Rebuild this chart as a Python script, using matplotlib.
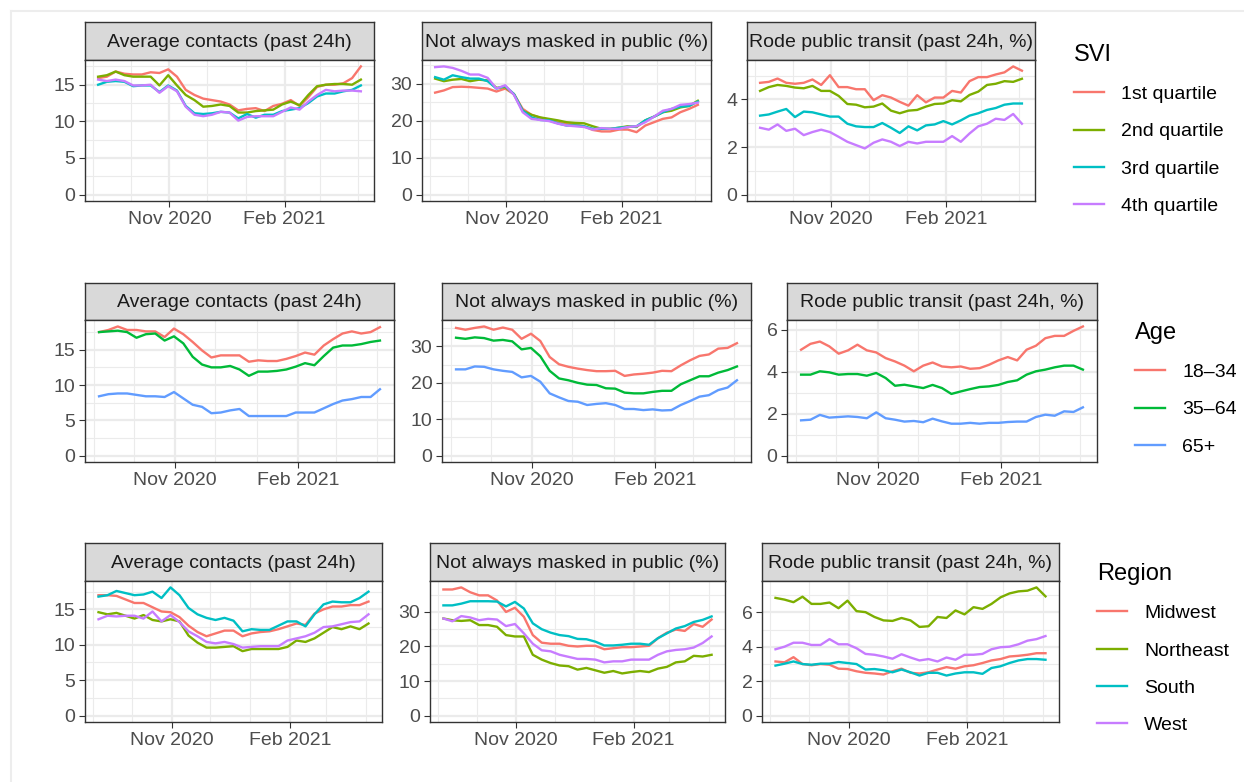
import matplotlib
matplotlib.use("Agg")
import matplotlib.pyplot as plt
import matplotlib.dates as mdates
from matplotlib.ticker import MultipleLocator
from matplotlib.lines import Line2D
import numpy as np
import pandas as pd

plt.rcParams['font.family'] = ['Liberation Sans', 'DejaVu Sans']

# ---------------- data ----------------
dates = pd.date_range("2020-09-05", periods=31, freq="7D")

panel_titles = ["Average contacts (past 24h)", "Not always masked in public (%)",
                "Rode public transit (past 24h, %)"]

svi_groups = ["1st quartile", "2nd quartile", "3rd quartile", "4th quartile"]
age_groups = ["18\u201334", "35\u201364", "65+"]
region_groups = ["Midwest", "Northeast", "South", "West"]

svi_colors = ["#F8766D", "#7CAE00", "#00BFC4", "#C77CFF"]
age_colors = ["#F8766D", "#00BA38", "#619CFF"]
region_colors = ["#F8766D", "#7CAE00", "#00BFC4", "#C77CFF"]

svi_contacts_q1 = [15.9, 16.1, 16.8, 16.5, 16.4, 16.4, 16.7, 16.6, 17.1, 16.1, 14.3, 13.6, 13.1, 12.9, 12.7, 12.3, 11.5, 11.7, 11.8, 11.4, 12.1, 12.4, 12.9, 12.1, 13.3, 14.7, 15.0, 15.0, 15.2, 15.9, 17.5]
svi_contacts_q2 = [16.1, 16.3, 16.8, 16.3, 16.1, 16.1, 16.1, 14.9, 16.3, 14.9, 13.6, 12.9, 12.0, 12.1, 12.3, 12.1, 11.2, 11.2, 11.4, 11.5, 11.6, 12.3, 12.7, 12.2, 13.6, 14.8, 15.0, 15.1, 15.1, 15.0, 15.7]
svi_contacts_q3 = [15.0, 15.4, 15.5, 15.4, 14.8, 14.9, 14.9, 14.0, 14.9, 14.2, 12.1, 11.1, 11.0, 11.1, 11.3, 11.2, 10.4, 11.0, 10.5, 10.9, 10.9, 11.4, 11.6, 11.8, 12.5, 13.4, 13.8, 13.8, 14.1, 14.3, 14.9]
svi_contacts_q4 = [15.7, 15.5, 15.7, 15.5, 14.9, 14.9, 15.0, 13.9, 14.8, 14.1, 12.0, 10.9, 10.7, 10.9, 11.3, 11.2, 10.1, 10.6, 10.7, 10.7, 10.7, 11.3, 11.9, 11.6, 12.7, 13.6, 14.3, 14.1, 14.2, 14.2, 14.1]

svi_mask_q1 = [27.6, 28.2, 29.1, 29.2, 29.1, 28.9, 28.7, 27.9, 28.7, 27.2, 23.2, 21.6, 20.8, 20.3, 19.8, 19.3, 19.0, 18.5, 17.5, 17.1, 17.1, 17.6, 17.6, 16.9, 18.7, 19.6, 20.5, 20.9, 22.3, 23.2, 24.3]
svi_mask_q2 = [31.4, 30.7, 31.1, 31.3, 30.7, 31.1, 30.9, 28.9, 29.1, 27.2, 22.7, 21.6, 20.9, 20.5, 20.1, 19.6, 19.4, 19.3, 18.5, 17.8, 17.8, 18.1, 18.5, 18.3, 20.1, 21.1, 22.3, 22.7, 23.6, 24.0, 25.4]
svi_mask_q3 = [31.8, 31.1, 32.3, 31.8, 31.4, 31.4, 30.7, 28.7, 29.4, 27.2, 22.7, 20.9, 20.2, 20.1, 19.3, 18.7, 18.7, 18.5, 17.8, 17.8, 17.8, 18.1, 18.3, 18.5, 20.1, 21.1, 22.3, 23.2, 23.8, 24.0, 25.2]
svi_mask_q4 = [34.5, 34.7, 34.3, 33.5, 32.5, 32.5, 31.6, 28.7, 29.6, 27.0, 22.3, 20.5, 20.2, 19.9, 19.2, 18.7, 18.5, 18.3, 17.6, 18.0, 17.8, 17.8, 18.3, 18.5, 19.6, 21.1, 22.7, 23.2, 24.3, 24.5, 24.9]

svi_transit_q1 = [4.70, 4.74, 4.88, 4.70, 4.66, 4.70, 4.84, 4.61, 5.02, 4.52, 4.52, 4.43, 4.43, 3.97, 4.18, 4.08, 3.90, 3.74, 4.18, 3.88, 4.08, 4.08, 4.36, 4.29, 4.77, 4.94, 4.94, 5.05, 5.14, 5.39, 5.21]
svi_transit_q2 = [4.36, 4.52, 4.61, 4.57, 4.50, 4.47, 4.57, 4.36, 4.36, 4.15, 3.81, 3.78, 3.67, 3.70, 3.83, 3.53, 3.42, 3.53, 3.56, 3.70, 3.81, 3.83, 3.97, 3.92, 4.19, 4.33, 4.61, 4.66, 4.77, 4.74, 4.87]
svi_transit_q3 = [3.32, 3.37, 3.49, 3.60, 3.26, 3.49, 3.46, 3.37, 3.28, 3.28, 2.98, 2.87, 2.84, 2.84, 3.01, 2.81, 2.59, 2.87, 2.70, 2.91, 2.95, 3.09, 2.95, 3.12, 3.32, 3.42, 3.56, 3.64, 3.78, 3.83, 3.83]
svi_transit_q4 = [2.81, 2.73, 2.95, 2.68, 2.77, 2.50, 2.63, 2.73, 2.63, 2.43, 2.22, 2.08, 1.94, 2.18, 2.32, 2.22, 2.04, 2.22, 2.15, 2.22, 2.22, 2.22, 2.46, 2.22, 2.57, 2.87, 2.98, 3.19, 3.14, 3.39, 2.98]

age_contacts_1834 = [17.5, 17.8, 18.3, 17.8, 17.8, 17.6, 17.6, 16.8, 18.0, 17.2, 16.1, 14.9, 13.9, 14.2, 14.2, 14.2, 13.3, 13.5, 13.4, 13.4, 13.7, 14.1, 14.6, 14.3, 15.6, 16.5, 17.3, 17.6, 17.3, 17.5, 18.2]
age_contacts_3564 = [17.5, 17.6, 17.7, 17.5, 16.7, 17.2, 17.3, 16.3, 16.9, 15.9, 14.0, 12.9, 12.5, 12.5, 12.7, 12.2, 11.3, 11.9, 11.9, 12.0, 12.2, 12.6, 13.1, 12.8, 14.1, 15.3, 15.6, 15.6, 15.8, 16.1, 16.3]
age_contacts_65 = [8.4, 8.7, 8.8, 8.8, 8.6, 8.4, 8.4, 8.3, 9.0, 8.1, 7.2, 6.9, 6.0, 6.1, 6.4, 6.6, 5.6, 5.6, 5.6, 5.6, 5.6, 6.1, 6.1, 6.1, 6.7, 7.3, 7.8, 8.0, 8.3, 8.3, 9.4]

age_mask_1834 = [35.1, 34.6, 35.1, 35.5, 34.6, 35.2, 34.6, 32.1, 33.5, 31.5, 27.1, 25.1, 24.4, 23.9, 23.5, 23.2, 23.2, 23.3, 21.9, 22.3, 22.5, 22.8, 23.3, 23.2, 24.8, 26.2, 27.4, 27.8, 29.4, 29.6, 30.9]
age_mask_3564 = [32.4, 32.1, 32.5, 32.3, 31.6, 31.8, 31.4, 29.2, 29.6, 27.3, 23.3, 21.2, 20.7, 20.0, 19.5, 19.4, 18.5, 18.4, 17.3, 17.1, 17.1, 17.5, 17.8, 17.8, 19.6, 20.7, 21.8, 21.8, 22.8, 23.5, 24.5]
age_mask_65 = [23.7, 23.7, 24.5, 24.4, 23.7, 23.3, 23.0, 21.5, 21.9, 20.3, 17.1, 16.0, 15.0, 14.8, 13.9, 14.2, 14.4, 13.9, 12.8, 12.8, 12.5, 12.7, 12.4, 12.5, 13.9, 15.0, 16.2, 16.6, 18.0, 18.7, 20.7]

age_transit_1834 = [5.05, 5.33, 5.44, 5.21, 4.86, 5.02, 5.29, 5.02, 4.92, 4.65, 4.49, 4.29, 4.02, 4.29, 4.44, 4.25, 4.21, 4.25, 4.14, 4.17, 4.33, 4.54, 4.70, 4.54, 5.05, 5.24, 5.60, 5.71, 5.71, 5.95, 6.16]
age_transit_3564 = [3.86, 3.86, 4.02, 3.97, 3.86, 3.89, 3.89, 3.81, 3.94, 3.70, 3.33, 3.38, 3.30, 3.22, 3.37, 3.22, 2.94, 3.06, 3.17, 3.27, 3.30, 3.37, 3.51, 3.59, 3.86, 4.02, 4.10, 4.21, 4.29, 4.29, 4.10]
age_transit_65 = [1.68, 1.71, 1.94, 1.81, 1.84, 1.87, 1.84, 1.78, 2.06, 1.78, 1.71, 1.62, 1.65, 1.59, 1.76, 1.63, 1.52, 1.52, 1.56, 1.52, 1.56, 1.56, 1.60, 1.62, 1.62, 1.84, 1.95, 1.90, 2.11, 2.08, 2.30]

reg_contacts_mw = [17.0, 17.0, 16.9, 16.4, 15.9, 15.9, 15.3, 14.7, 14.6, 13.9, 12.7, 11.8, 11.2, 11.6, 12.0, 12.0, 11.2, 11.6, 11.8, 11.9, 12.2, 12.6, 13.0, 12.8, 14.4, 15.0, 15.4, 15.4, 15.6, 15.6, 16.1]
reg_contacts_ne = [14.6, 14.3, 14.5, 14.1, 13.7, 14.2, 13.5, 13.3, 13.6, 13.3, 11.3, 10.3, 9.6, 9.6, 9.7, 9.8, 9.1, 9.4, 9.4, 9.4, 9.4, 9.7, 10.6, 10.4, 10.9, 11.7, 12.5, 12.2, 12.6, 12.2, 13.0]
reg_contacts_s = [16.8, 17.0, 17.6, 17.3, 17.0, 17.1, 17.5, 16.6, 18.1, 17.0, 15.2, 14.3, 13.8, 13.5, 13.8, 13.4, 11.9, 12.2, 12.1, 12.1, 12.7, 13.3, 13.3, 12.6, 14.3, 15.7, 16.1, 16.0, 16.0, 16.6, 17.5]
reg_contacts_w = [13.6, 14.1, 14.0, 14.1, 14.1, 13.7, 14.7, 13.3, 14.2, 13.2, 11.9, 11.2, 10.4, 10.2, 10.4, 10.1, 9.6, 9.7, 9.8, 9.8, 9.8, 10.6, 10.9, 11.2, 11.7, 12.5, 12.6, 12.9, 13.2, 13.3, 14.3]

reg_mask_mw = [36.5, 36.5, 37.1, 35.7, 34.8, 34.8, 33.3, 30.0, 31.2, 28.6, 23.3, 21.1, 20.8, 20.8, 20.2, 20.0, 20.2, 20.2, 19.2, 19.5, 19.8, 19.8, 20.0, 20.2, 22.4, 24.0, 24.9, 24.5, 26.5, 25.7, 27.8]
reg_mask_ne = [28.1, 27.6, 27.4, 27.6, 26.2, 26.2, 25.7, 23.3, 22.9, 22.9, 17.6, 16.2, 15.2, 14.5, 14.3, 13.3, 13.8, 13.1, 12.4, 12.9, 12.2, 12.6, 12.9, 12.6, 13.6, 14.1, 15.4, 15.7, 17.3, 17.1, 17.6]
reg_mask_s = [31.9, 31.9, 32.4, 33.1, 33.1, 33.1, 33.0, 31.6, 32.9, 31.0, 26.7, 25.0, 24.0, 23.3, 23.0, 22.2, 22.1, 21.4, 20.3, 20.3, 20.5, 20.8, 20.8, 20.5, 22.4, 23.8, 25.2, 25.9, 27.1, 27.7, 28.7]
reg_mask_w = [28.1, 27.3, 28.8, 28.4, 27.6, 28.0, 27.8, 25.9, 26.5, 23.8, 20.8, 18.9, 18.6, 17.6, 17.0, 16.4, 16.4, 16.2, 15.4, 15.7, 15.7, 16.2, 16.2, 16.2, 17.6, 18.6, 19.0, 19.2, 19.7, 21.0, 22.9]

reg_transit_mw = [3.15, 3.10, 3.40, 3.00, 2.93, 3.00, 2.96, 2.73, 2.71, 2.58, 2.49, 2.45, 2.39, 2.58, 2.73, 2.49, 2.45, 2.52, 2.68, 2.82, 2.73, 2.87, 2.93, 3.06, 3.21, 3.29, 3.44, 3.48, 3.54, 3.63, 3.63]
reg_transit_ne = [6.85, 6.75, 6.60, 6.92, 6.50, 6.50, 6.58, 6.25, 6.69, 6.08, 6.02, 5.74, 5.54, 5.51, 5.68, 5.54, 5.16, 5.20, 5.74, 5.68, 6.12, 5.89, 6.31, 6.21, 6.50, 6.88, 7.11, 7.23, 7.27, 7.46, 6.94]
reg_transit_s = [2.91, 3.02, 3.15, 3.00, 2.96, 3.02, 3.02, 3.12, 3.06, 3.00, 2.68, 2.71, 2.64, 2.52, 2.68, 2.52, 2.33, 2.49, 2.49, 2.33, 2.45, 2.52, 2.52, 2.43, 2.77, 2.87, 3.06, 3.21, 3.29, 3.29, 3.25]
reg_transit_w = [3.86, 4.01, 4.24, 4.24, 4.11, 4.11, 4.45, 4.15, 4.15, 3.92, 3.59, 3.54, 3.44, 3.31, 3.57, 3.38, 3.21, 3.29, 3.15, 3.38, 3.25, 3.54, 3.54, 3.59, 3.86, 3.98, 4.01, 4.15, 4.36, 4.45, 4.63]

# ---------------- assemble ----------------
rows = [
    dict(legend_title="SVI", groups=svi_groups, colors=svi_colors,
         series=[[svi_contacts_q1, svi_contacts_q2, svi_contacts_q3, svi_contacts_q4],
                 [svi_mask_q1, svi_mask_q2, svi_mask_q3, svi_mask_q4],
                 [svi_transit_q1, svi_transit_q2, svi_transit_q3, svi_transit_q4]],
         panels=[(85, 374), (422, 711), (747, 1035)],
         strip_top=22, ax_top=60, ax_bottom=201, legend_xy=(1074, 44)),
    dict(legend_title="Age", groups=age_groups, colors=age_colors,
         series=[[age_contacts_1834, age_contacts_3564, age_contacts_65],
                 [age_mask_1834, age_mask_3564, age_mask_65],
                 [age_transit_1834, age_transit_3564, age_transit_65]],
         panels=[(85, 394), (442, 751), (787, 1097)],
         strip_top=283, ax_top=320, ax_bottom=462, legend_xy=(1135, 322)),
    dict(legend_title="Region", groups=region_groups, colors=region_colors,
         series=[[reg_contacts_mw, reg_contacts_ne, reg_contacts_s, reg_contacts_w],
                 [reg_mask_mw, reg_mask_ne, reg_mask_s, reg_mask_w],
                 [reg_transit_mw, reg_transit_ne, reg_transit_s, reg_transit_w]],
         panels=[(85, 382), (430, 725), (762, 1059)],
         strip_top=543, ax_top=581, ax_bottom=722, legend_xy=(1097, 563)),
]
ystep = [5, 10, 2]

W, H = 1244, 782
fig = plt.figure(figsize=(W / 100, H / 100), dpi=100)
fig.patch.set_facecolor("white")

def px_axes(left, top, right, bottom):
    return fig.add_axes([left / W, 1 - bottom / H, (right - left) / W, (bottom - top) / H])

# light outer frame of the screenshot
fig.add_artist(Line2D([11 / W, 11 / W], [0, 1 - 11 / H], transform=fig.transFigure,
                      color="#ededed", lw=1.5))
fig.add_artist(Line2D([11 / W, 1], [1 - 11 / H, 1 - 11 / H], transform=fig.transFigure,
                      color="#ededed", lw=1.5))

xnum = mdates.date2num(dates.to_pydatetime())
xspan = xnum[-1] - xnum[0]
xlim = (xnum[0] - 0.05 * xspan, xnum[-1] + 0.05 * xspan)

border = "#333333"
for row in rows:
    handles = None
    for j, (l, r) in enumerate(row["panels"]):
        # strip
        sax = px_axes(l, row["strip_top"], r, row["ax_top"])
        sax.set_facecolor("#d9d9d9")
        sax.set_xticks([]); sax.set_yticks([])
        for sp in sax.spines.values():
            sp.set_color(border); sp.set_linewidth(1.0)
        sax.text(0.5, 0.47, panel_titles[j], ha="center", va="center",
                 fontsize=14, color="#1a1a1a", transform=sax.transAxes)

        ax = px_axes(l, row["ax_top"], r, row["ax_bottom"])
        ax.set_facecolor("white")
        lines = []
        for vals, lab, col in zip(row["series"][j], row["groups"], row["colors"]):
            ln, = ax.plot(dates, vals, color=col, lw=1.7, label=lab, solid_joinstyle="round")
            lines.append(ln)
        if handles is None:
            handles = lines
        hi = max(max(v) for v in row["series"][j])
        pad = 0.05 * hi
        ax.set_ylim(-pad, hi + pad)
        ax.set_xlim(*xlim)
        ax.yaxis.set_major_locator(MultipleLocator(ystep[j]))
        ax.yaxis.set_minor_locator(MultipleLocator(ystep[j] / 2))
        ax.xaxis.set_major_locator(mdates.MonthLocator(bymonth=[2, 5, 8, 11]))
        ax.xaxis.set_major_formatter(mdates.DateFormatter("%b %Y"))
        ax.xaxis.set_minor_locator(mdates.MonthLocator())
        ax.grid(which="major", color="#ebebeb", lw=1.6)
        ax.grid(which="minor", color="#ebebeb", lw=0.8)
        ax.set_axisbelow(True)
        ax.tick_params(which="major", length=4.4, width=0.8, color=border,
                       labelsize=14, labelcolor="#4d4d4d", pad=2.5)
        ax.tick_params(which="minor", length=0)
        for sp in ax.spines.values():
            sp.set_color(border); sp.set_linewidth(1.0)
            sp.set_zorder(5)

    lx, ly = row["legend_xy"]
    fig.legend(handles=handles, labels=row["groups"], loc="upper left",
               bbox_to_anchor=(lx / W, 1 - ly / H), frameon=False,
               fontsize=14, title=row["legend_title"], title_fontsize=17,
               handlelength=1.55, handletextpad=0.88, labelspacing=1.01,
               borderpad=0, borderaxespad=0, alignment="left")

fig.savefig("out.png", dpi=100, facecolor="white")
